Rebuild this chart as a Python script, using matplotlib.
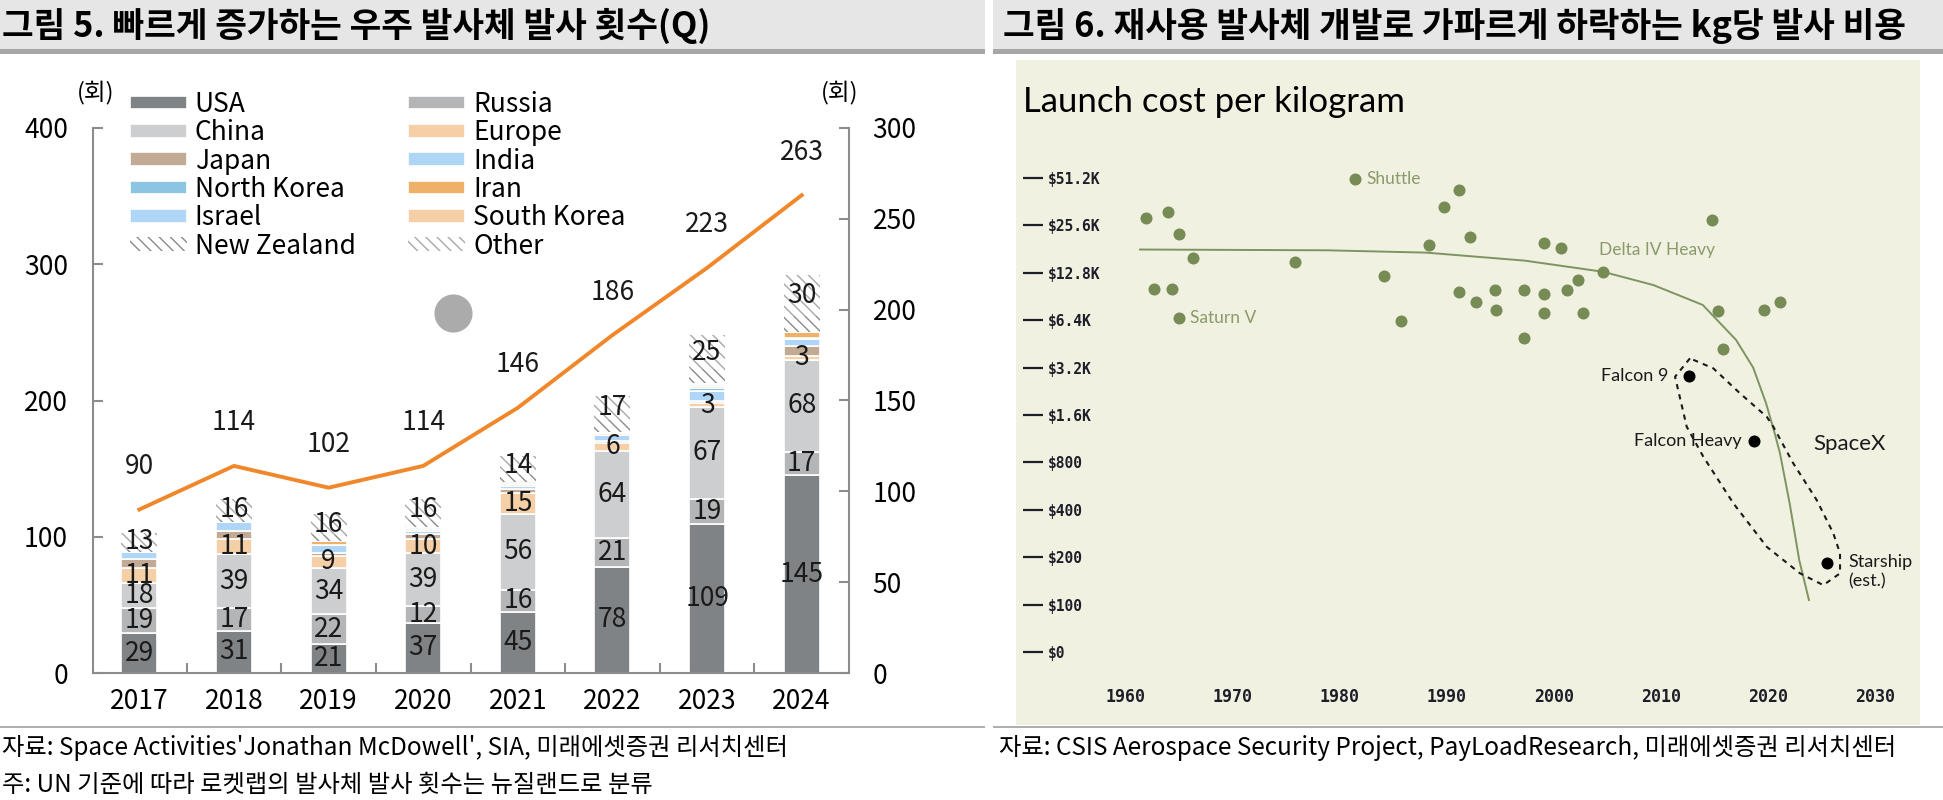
import matplotlib.pyplot as plt
import matplotlib.patches as mpatches
import numpy as np
from matplotlib.ticker import NullLocator

plt.rcParams['font.family'] = ['Noto Sans CJK KR', 'DejaVu Sans']
plt.rcParams['hatch.linewidth'] = 1.0
plt.rcParams['axes.unicode_minus'] = False

# ---- left chart data: launches per country (stack bottom -> top)
years = ['2017', '2018', '2019', '2020', '2021', '2022', '2023', '2024']
usa = [29, 31, 21, 37, 45, 78, 109, 145]
russia = [19, 17, 22, 12, 16, 21, 19, 17]
china = [18, 39, 34, 39, 56, 64, 67, 68]
europe = [11, 11, 9, 10, 15, 6, 3, 3]
japan = [7, 6, 2, 4, 3, 1, 2, 7]
india = [5, 7, 6, 2, 2, 5, 7, 5]
north_korea = [0, 0, 0, 0, 0, 0, 2, 1]
iran = [0, 0, 3, 2, 2, 1, 2, 4]
israel = [0, 0, 0, 1, 0, 0, 1, 0]
south_korea = [0, 0, 0, 0, 1, 1, 1, 0]
new_zealand = [1, 1, 4, 5, 5, 9, 10, 12]
other = [13, 16, 16, 16, 14, 17, 25, 30]
total_launches = [90, 114, 102, 114, 146, 186, 223, 263]

countries = ['USA', 'Russia', 'China', 'Europe', 'Japan', 'India',
             'North Korea', 'Iran', 'Israel', 'South Korea', 'New Zealand', 'Other']
series = [usa, russia, china, europe, japan, india, north_korea, iran,
          israel, south_korea, new_zealand, other]
labelled = ['USA', 'Russia', 'China', 'Europe', 'Other']

# ---- right chart data: launch cost per kg (USD)
rocket_years = [1962.0, 1964.0, 1965.0, 1966.3, 1962.7, 1964.4, 1975.9, 1984.2,
                1985.7, 1988.4, 1989.8, 1991.2, 1992.2, 1991.2, 1992.7, 1994.5,
                1994.6, 1997.2, 1997.2, 1999.1, 2000.7, 2002.3, 2001.2, 1999.1,
                1999.1, 2002.7, 2014.8, 2015.3, 2015.8, 2019.6, 2021.1]
rocket_costs = [28400, 31000, 22700, 15900, 10100, 10100, 15100, 12300,
                6300, 19200, 33500, 43000, 21700, 9700, 8300, 10000,
                7400, 10000, 4900, 19900, 18500, 11500, 9900, 9400,
                7100, 7100, 27700, 7300, 4200, 7400, 8300]
named_rockets = ['Saturn V', 'Shuttle', 'Delta IV Heavy']
named_years = [1965.0, 1981.5, 2004.6]
named_costs = [6600, 50500, 13000]
spacex_rockets = ['Falcon 9', 'Falcon Heavy', 'Starship\n(est.)']
spacex_years = [2012.6, 2018.7, 2025.5]
spacex_costs = [2850, 1100, 183]
trend_years = [1961.4, 1978.8, 1988.1, 1997.3, 2004.6, 2009.3, 2013.9, 2017.0,
               2018.6, 2019.8, 2020.6, 2021.1, 2022.0, 2022.9, 2023.8]
trend_costs = [18000, 17800, 17200, 15300, 13000, 10700, 8000, 4800,
               3200, 1900, 1230, 913, 440, 191, 107]
loop_years = [2012.70, 2011.31, 2012.40, 2013.95, 2016.75, 2019.86, 2022.97, 2025.14,
              2026.70, 2026.70, 2026.07, 2024.52, 2022.34, 2020.48, 2019.86, 2017.37,
              2014.88, 2012.70]
loop_costs = [3665, 2801, 1348, 869, 440, 233, 158, 133,
              158, 212, 284, 462, 789, 1348, 1561, 2197,
              3166, 3665]
cost_ticks = [51200, 25600, 12800, 6400, 3200, 1600, 800, 400, 200, 100, 50]
cost_labels = ['$51.2K', '$25.6K', '$12.8K', '$6.4K', '$3.2K', '$1.6K',
               '$800', '$400', '$200', '$100', '$0']
decade_ticks = [1960, 1970, 1980, 1990, 2000, 2010, 2020, 2030]

colors = ['#808385', '#b4b5b7', '#cdcecf', '#f5cfa6', '#c3aa95', '#b0d6f7',
          '#8cc5e3', '#efb067', '#b0d6f7', '#f5cfa6', 'white', 'white']
hatch_colors = {'New Zealand': '#8a8a8a', 'Other': '#a8a8a8'}
spine_c = '#8c8c8c'
narrow = ['Lato', 'DejaVu Sans']
mono = ['DejaVu Sans Mono']

fig = plt.figure(figsize=(19.43, 8.0), dpi=100)

# header bands and separators
for x0, w in [(0, 985), (993, 950)]:
    fig.add_artist(mpatches.Rectangle((x0 / 1943, 1 - 49 / 800), w / 1943, 49 / 800,
                                      transform=fig.transFigure, color='#e6e6e6', lw=0))
    fig.add_artist(mpatches.Rectangle((x0 / 1943, 1 - 54 / 800), w / 1943, 5 / 800,
                                      transform=fig.transFigure, color='#a6a6a6', lw=0))
    fig.add_artist(mpatches.Rectangle((x0 / 1943, 1 - 728 / 800), w / 1943, 2 / 800,
                                      transform=fig.transFigure, color='#b0b0b0', lw=0))
fig.text(0.001, 1 - 26 / 800, '그림 5. 빠르게 증가하는 우주 발사체 발사 횟수(Q)',
         fontsize=24.8, fontweight='bold', va='center', ha='left')
fig.text(1003 / 1943, 1 - 26 / 800, '그림 6. 재사용 발사체 개발로 가파르게 하락하는 kg당 발사 비용',
         fontsize=24.8, fontweight='bold', va='center', ha='left')
fig.text(0.001, 1 - 748 / 800,
         "자료: Space Activities'Jonathan McDowell', SIA, 미래에셋증권 리서치센터",
         fontsize=17.5, va='center', ha='left')
fig.text(0.001, 1 - 785 / 800, '주: UN 기준에 따라 로켓랩의 발사체 발사 횟수는 뉴질랜드로 분류',
         fontsize=17.5, va='center', ha='left')
fig.text(999 / 1943, 1 - 748 / 800,
         '자료: CSIS Aerospace Security Project, PayLoadResearch, 미래에셋증권 리서치센터',
         fontsize=17.5, va='center', ha='left')

# ---------------- left: stacked bars + total line
ax = fig.add_axes([93 / 1943, 1 - 673 / 800, 756 / 1943, 545 / 800])
x = np.arange(len(years))
bottom = np.zeros(len(years))
handles = {}
for name, vals, col in zip(countries, series, colors):
    vals = np.array(vals, dtype=float)
    if name in hatch_colors:
        bars = ax.bar(x, vals, 0.38, bottom=bottom, color='white',
                      edgecolor=hatch_colors[name], linewidth=0, hatch='\\\\\\', zorder=2)
    else:
        bars = ax.bar(x, vals, 0.38, bottom=bottom, color=col,
                      edgecolor='white', linewidth=1.2, zorder=2)
    handles[name] = bars
    if name in labelled:
        for xi, b, v in zip(x, bottom, vals):
            ax.text(xi, b + v / 2, f'{int(v)}', ha='center', va='center',
                    fontsize=19, color='#1a1a1a', zorder=4)
    bottom += vals

ax.set_xlim(-0.49, 7.5)
ax.set_ylim(0, 400)
ax.set_yticks(range(0, 401, 100))
ax.set_xticks(x)
ax.set_xticklabels(years)
ax.set_xticks(np.arange(0.5, 7), minor=True)
ax.tick_params(axis='x', which='major', length=0, labelsize=19, pad=11)
ax.tick_params(axis='x', which='minor', direction='in', length=7, width=1.5, color=spine_c)
ax.tick_params(axis='y', direction='in', length=7, width=1.5, color=spine_c,
               labelsize=19, pad=18)
for s in ['top', 'right']:
    ax.spines[s].set_visible(False)
for s in ['left', 'bottom']:
    ax.spines[s].set_color(spine_c)
    ax.spines[s].set_linewidth(1.5)
ax.text(0.003, 1.066, '(회)', transform=ax.transAxes, fontsize=17, ha='center', va='center')

# odd grey marker left in the source image
ax.scatter([3.31], [264], s=700, color='#ababab', zorder=3)

ax2 = ax.twinx()
ax2.plot(x, total_launches, color='#f0872a', lw=2.8, zorder=3)
for xi, v in zip(x, total_launches):
    ax2.annotate(f'{v}', (xi, v), xytext=(0, 31), textcoords='offset points',
                 ha='center', va='center', fontsize=19, color='#1a1a1a')
ax2.set_ylim(0, 300)
ax2.set_yticks(range(0, 301, 50))
ax2.tick_params(axis='y', direction='in', length=7, width=1.5, color=spine_c,
                labelsize=19, pad=17)
for s in ['top', 'left', 'bottom']:
    ax2.spines[s].set_visible(False)
ax2.spines['right'].set_color(spine_c)
ax2.spines['right'].set_linewidth(1.5)
ax2.text(0.988, 1.066, '(회)', transform=ax.transAxes, fontsize=17, ha='center', va='center')

# legend laid out row-wise in two columns
col1 = ['USA', 'China', 'Japan', 'North Korea', 'Israel', 'New Zealand']
col2 = ['Russia', 'Europe', 'India', 'Iran', 'South Korea', 'Other']
order = col1 + col2
ax.legend([handles[n] for n in order], order, ncol=2, loc='upper left',
          bbox_to_anchor=(0.049, 1.068), frameon=False, fontsize=19,
          handlelength=2.15, handleheight=0.42, handletextpad=0.3,
          labelspacing=0.05, columnspacing=2.0, borderpad=0, borderaxespad=0)

# ---------------- right: launch cost per kg
axr = fig.add_axes([1016 / 1943, 1 - 725 / 800, 904 / 1943, 665 / 800])
axr.set_facecolor('#f1f1e2')
axr.set_yscale('log', base=2)
axr.set_xlim(1949.83, 2034.16)
axr.set_ylim(17.2, 287700)
for s in axr.spines.values():
    s.set_visible(False)

axr.plot(trend_years, trend_costs, color='#7d9460', lw=1.4, zorder=2)
axr.plot(loop_years, loop_costs, color='#1a1a1a', lw=1.5, ls=(0, (2.5, 2.5)), zorder=2)
axr.scatter(rocket_years, rocket_costs, s=75, color='#778b55', lw=0, zorder=3)
axr.scatter(named_years, named_costs, s=75, color='#778b55', lw=0, zorder=3)
axr.scatter(spacex_years, spacex_costs, s=75, color='black', lw=0, zorder=3)

named_offsets = {'Saturn V': (8.5, 0, 'left'), 'Shuttle': (8, 0, 'left'),
                 'Delta IV Heavy': (-3, 16, 'left')}
for name, yr, c in zip(named_rockets, named_years, named_costs):
    dx, dy, ha = named_offsets[name]
    axr.annotate(name, (yr, c), xytext=(dx, dy), textcoords='offset points',
                 ha=ha, va='center', fontsize=12.5, color='#8a9a6a', family=narrow)
spacex_offsets = {'Falcon 9': (-15, 0, 'right', 'center'),
                  'Falcon Heavy': (-9, 0, 'right', 'center'),
                  'Starship\n(est.)': (15, 7, 'left', 'top')}
for name, yr, c in zip(spacex_rockets, spacex_years, spacex_costs):
    dx, dy, ha, va = spacex_offsets[name]
    axr.annotate(name, (yr, c), xytext=(dx, dy), textcoords='offset points',
                 ha=ha, va=va, fontsize=13, color='#1a1a1a', family=narrow,
                 linespacing=1.3)
axr.annotate('SpaceX', (spacex_years[1], spacex_costs[1]), xytext=(42.5, -2.4),
             textcoords='offset points', ha='left', va='center', fontsize=16,
             color='#1a1a1a', family=narrow)

# y labels: short dark dash (tick) then the value
axr.spines['left'].set_position(('outward', -5))
axr.set_yticks(cost_ticks)
axr.set_yticklabels(cost_labels, family=mono, fontweight='bold',
                    fontsize=10.5, color='#1e1e28')
axr.yaxis.set_minor_locator(NullLocator())
axr.tick_params(axis='y', direction='in', length=14.4, width=1.6, color='#1e1e28', pad=-18)
for t in axr.get_yticklabels():
    t.set_horizontalalignment('left')
axr.set_xticks(decade_ticks)
axr.set_xticklabels([str(d) for d in decade_ticks], family=mono, fontweight='bold',
                    fontsize=12, color='#1e1e28')
axr.tick_params(axis='x', length=0, pad=-26.6)
axr.text(0.0077, 0.9218, 'Launch cost per kilogram', transform=axr.transAxes,
         fontsize=25, va='baseline', ha='left', family=narrow, color='black')

fig.savefig('out.png', dpi=100)
